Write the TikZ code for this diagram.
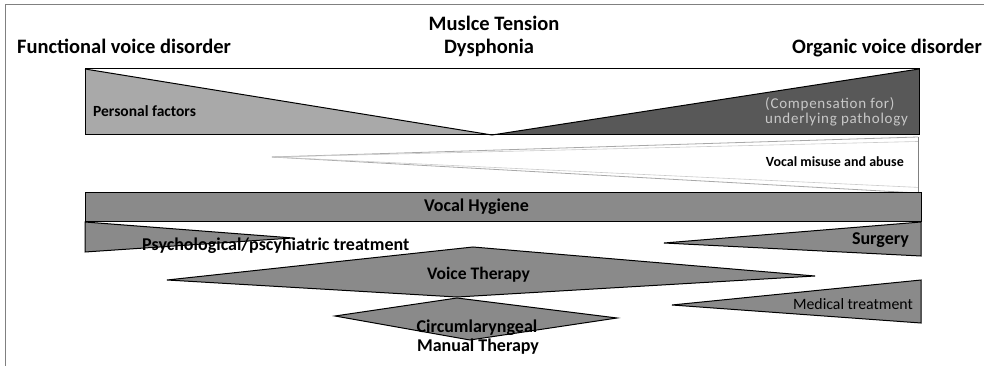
\documentclass[tikz,border=0pt]{standalone}
\usepackage{fontspec}
\usetikzlibrary{calc}
\setmainfont{Carlito}
\newfontfamily\spacedfont[LetterSpace=5]{Carlito}
\definecolor{lightg}{HTML}{A9A9A9}
\definecolor{darkg}{HTML}{585858}
\definecolor{midg}{HTML}{8A8A8A}
\definecolor{faint}{HTML}{A8A8A8}
\definecolor{comptext}{HTML}{C8C8C8}
\begin{document}
\begin{tikzpicture}[x=1pt,y=-1pt,
  shapeline/.style={draw=black,line width=1pt,line join=miter},
  title/.style={font=\fontsize{20.5}{23}\selectfont\bfseries,inner sep=0pt},
  lab/.style={inner sep=0pt,font=\fontsize{18}{20}\selectfont\bfseries}]
\useasboundingbox (0,0) rectangle (984,366);
\fill[white] (0,0) rectangle (984,366);
% frame
\coordinate (fTL) at (5,5);
\coordinate (fTR) at (984,5);
\coordinate (fBL) at (5,366);
\draw[gray,line width=1pt] (fBL) -- (fTL) -- (fTR);
% titles
\node[title,anchor=base] (tfun) at (124,54) {Functional voice disorder};
\node[title,anchor=base] (tmus1) at (494,31) {Muslce Tension};
\node[title,anchor=base] (tmus2) at (489,54) {Dysphonia};
\node[title,anchor=base] (torg) at (887,54) {Organic voice disorder};
% top band
\coordinate (pTL) at (85,69);
\coordinate (pBL) at (85,135);
\coordinate (pM) at (492,135);
\coordinate (pTR) at (919,69);
\coordinate (pBR) at (919,135);
\fill[lightg] (pTL) -- (pBL) -- (pM) -- cycle;
\fill[darkg] (pTR) -- (pBR) -- (pM) -- cycle;
\draw[shapeline] (pTL) rectangle (pBR);
\draw[shapeline] (pTL) -- (pM) -- (pTR);
\node[lab,font=\fontsize{15.5}{17}\selectfont\bfseries,anchor=west] (pers) at (93,111) {Personal factors};
\node[inner sep=0pt,font=\fontsize{15}{14.5}\selectfont\spacedfont,text=comptext,align=left,anchor=west] (comp) at (765,112) {(Compensation for)\\underlying pathology};
% misuse
\coordinate (mA) at (272,157);
\coordinate (mT) at (918,137);
\coordinate (mB) at (918,193);
\fill[white] (mA) -- (mT) -- (mB) -- cycle;
\draw[faint,line width=0.8pt] (mA) -- (mT);
\draw[faint,line width=0.8pt] (mA) -- (mB);
\draw[faint!60,line width=0.6pt] (mA) -- ($(mT)!0.08!(mB)$);
\draw[faint!60,line width=0.6pt] (mA) -- ($(mT)!0.9!(mB)$);
\draw[gray,line width=0.8pt] (mT) -- (mB);
\node[lab,font=\fontsize{14}{16}\selectfont\bfseries,anchor=east] (mis) at (904,162) {Vocal misuse and abuse};
% vocal hygiene
\coordinate (hTL) at (85,192);
\coordinate (hBR) at (921,221);
\draw[shapeline,fill=midg] (hTL) rectangle (hBR);
\node[lab] (hyg) at (476.5,207) {Vocal Hygiene};
% psychological
\coordinate (sT) at (85,222);
\coordinate (sB) at (85,252);
\coordinate (sA) at (293,238);
\draw[shapeline,fill=midg] (sT) -- (sA) -- (sB) -- cycle;
\node[lab,anchor=west] (psy) at (142,246) {Psychological/pscyhiatric treatment};
% voice therapy
\coordinate (vL) at (167,280);
\coordinate (vT) at (473,247);
\coordinate (vR) at (815,276);
\coordinate (vB) at (457,297);
\draw[shapeline,fill=midg] (vL) -- (vT) -- (vR) -- (vB) -- cycle;
\node[lab,font=\fontsize{17.6}{19}\selectfont\bfseries] (vth) at (478.5,275) {Voice Therapy};
% circumlaryngeal
\coordinate (cL) at (335,316);
\coordinate (cT) at (457,298);
\coordinate (cR) at (617,318);
\coordinate (cB) at (470,340);
\draw[shapeline,fill=midg] (cL) -- (cT) -- (cR) -- (cB) -- cycle;
\node[lab] (cir1) at (477,328) {Circumlaryngeal};
\node[lab] (cir2) at (478,347) {Manual Therapy};
% surgery
\coordinate (gA) at (664,243);
\coordinate (gT) at (921,222);
\coordinate (gB) at (921,256);
\draw[shapeline,fill=midg] (gA) -- (gT) -- (gB) -- cycle;
\node[lab,anchor=east] (sur) at (909,240) {Surgery};
% medical
\coordinate (dA) at (672,305);
\coordinate (dT) at (921,280);
\coordinate (dB) at (921,323);
\draw[shapeline,fill=midg] (dA) -- (dT) -- (dB) -- cycle;
\node[inner sep=0pt,font=\fontsize{15.8}{17}\selectfont,anchor=east] (med) at (913,304) {Medical treatment};
\end{tikzpicture}
\end{document}
